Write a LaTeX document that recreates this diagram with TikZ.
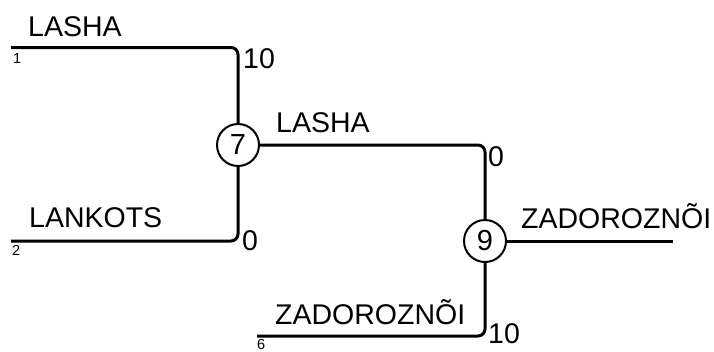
\documentclass[tikz,border=0pt]{standalone}
\usepackage{fontspec}
\setmainfont{Liberation Sans}

\begin{document}
\begin{tikzpicture}[x=1pt,y=-1pt,
    bracket/.style={line width=3pt,rounded corners=7pt},
    game/.style={circle,draw,line width=2pt,minimum size=42pt,inner sep=0pt,font=\fontsize{29}{31}\selectfont},
    player/.style={anchor=base west,inner sep=0pt,font=\fontsize{28.5}{31}\selectfont},
    score/.style={anchor=base west,inner sep=0pt,font=\fontsize{28.5}{31}\selectfont},
    seed/.style={anchor=base west,inner sep=0pt,font=\fontsize{14.5}{16}\selectfont}]
    \useasboundingbox (0,0) rectangle (714,351);
    % games
    \node[game] (g7) at (238,145) {7};
    \node[game] (g9) at (485,241) {9};
    % line ends
    \coordinate (p1) at (11,47.5);
    \coordinate (p2) at (11,241);
    \coordinate (p6) at (257,336);
    \coordinate (win) at (673,241);
    \draw[bracket] (p1) -| (g7.north);
    \draw[bracket] (p2) -| (g7.south);
    \draw[bracket] (g7.east) -| (g9.north);
    \draw[bracket] (p6) -| (g9.south);
    \draw[bracket] (g9.east) -- (win);
    % names, seeds and scores
    \node[player] (n1) at (28,36) {LASHA};
    \node[seed] (s1) at (13,63) {1};
    \node[score] (r1) at (243,68) {10};
    \node[player] (n2) at (29,227) {LANKOTS};
    \node[seed] (s2) at (12,255) {2};
    \node[score] (r2) at (242,250) {0};
    \node[player] (n7) at (276,132) {LASHA};
    \node[score] (r7) at (488,166) {0};
    \node[player] (n9) at (521,228) {ZADOROZNÕI};
    \node[player] (n6) at (275,324) {ZADOROZNÕI};
    \node[seed] (s6) at (257,349) {6};
    \node[score] (r6) at (488,343) {10};
\end{tikzpicture}
\end{document}
